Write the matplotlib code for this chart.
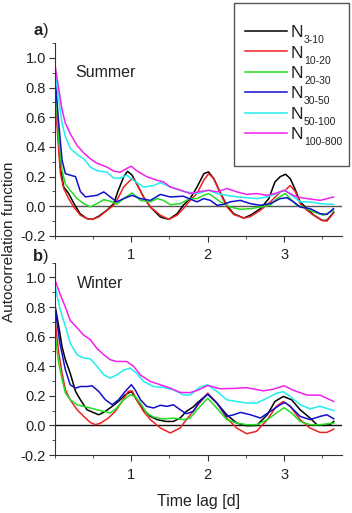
import matplotlib.pyplot as plt
from matplotlib.ticker import MultipleLocator
from matplotlib.patches import Rectangle

plt.rcParams['font.family'] = ['Liberation Sans', 'DejaVu Sans']
plt.rcParams['mathtext.fontset'] = 'custom'
plt.rcParams['mathtext.rm'] = 'Liberation Sans'
plt.rcParams['mathtext.bf'] = 'Liberation Sans:bold'
plt.rcParams['mathtext.default'] = 'regular'
plt.rcParams['axes.unicode_minus'] = False

# ---- Summer (panel a) ----
sum_x_n3 = [0, 0.03, 0.07, 0.115, 0.18, 0.25, 0.33, 0.42, 0.49, 0.57, 0.68, 0.77, 0.83, 0.9, 0.95,
            1.01, 1.07, 1.16, 1.25, 1.38, 1.49, 1.6, 1.68, 1.77, 1.86, 1.95, 2.01, 2.08, 2.17, 2.25,
            2.34, 2.47, 2.56, 2.69, 2.8, 2.88, 2.95, 3.02, 3.08, 3.15, 3.21, 3.3, 3.39, 3.5, 3.56, 3.65]
sum_y_n3 = [0.85, 0.58, 0.27, 0.13, 0.086, 0.018, -0.05, -0.083, -0.088, -0.068, -0.027, 0.018, 0.108,
            0.198, 0.236, 0.21, 0.153, 0.063, -0.005, -0.072, -0.088, -0.05, 0.007, 0.052, 0.13, 0.22,
            0.232, 0.187, 0.086, 0.007, -0.05, -0.079, -0.06, -0.016, 0.052, 0.164, 0.2, 0.216, 0.187,
            0.108, 0.03, -0.016, -0.06, -0.095, -0.095, -0.04]

sum_x_n10 = [0, 0.028, 0.072, 0.115, 0.18, 0.246, 0.333, 0.42, 0.486, 0.573, 0.682, 0.769, 0.834, 0.9,
             0.987, 1.03, 1.07, 1.16, 1.25, 1.38, 1.49, 1.6, 1.68, 1.77, 1.86, 1.948, 2.013, 2.078, 2.166,
             2.253, 2.34, 2.47, 2.558, 2.688, 2.797, 2.885, 2.95, 3.015, 3.08, 3.146, 3.211, 3.298, 3.386,
             3.495, 3.56, 3.647]
sum_y_n10 = [0.88, 0.54, 0.22, 0.12, 0.052, -0.005, -0.06, -0.083, -0.088, -0.072, -0.027, 0.007, 0.063,
             0.13, 0.176, 0.187, 0.153, 0.063, -0.005, -0.06, -0.088, -0.06, -0.016, 0.04, 0.086, 0.176,
             0.22, 0.187, 0.086, -0.005, -0.055, -0.079, -0.07, -0.027, 0.018, 0.063, 0.097, 0.108, 0.14,
             0.1, 0.018, -0.027, -0.06, -0.095, -0.1, -0.045]

sum_x_n20 = [0, 0.05, 0.094, 0.137, 0.2, 0.29, 0.377, 0.464, 0.55, 0.64, 0.725, 0.81, 0.9, 1.01, 1.12,
             1.25, 1.34, 1.42, 1.51, 1.64, 1.77, 1.86, 1.948, 2.013, 2.078, 2.166, 2.296, 2.427, 2.558,
             2.688, 2.819, 2.906, 3.015, 3.08, 3.168, 3.255, 3.386, 3.516, 3.647]
sum_y_n20 = [0.86, 0.45, 0.24, 0.15, 0.108, 0.052, 0.018, -0.004, 0.018, 0.045, 0.034, 0.015, 0.052,
             0.09, 0.04, 0.03, 0.052, 0.04, 0.011, 0.018, 0.052, 0.052, 0.074, 0.086, 0.063, 0.03,
             -0.005, -0.02, -0.016, -0.005, 0.007, 0.052, 0.086, 0.052, 0.007, -0.005, -0.038, -0.06,
             -0.027]

sum_x_n30 = [0, 0.05, 0.094, 0.137, 0.2, 0.27, 0.333, 0.4, 0.464, 0.55, 0.64, 0.725, 0.81, 0.9, 1.01,
             1.12, 1.25, 1.38, 1.51, 1.68, 1.86, 1.948, 2.035, 2.122, 2.209, 2.296, 2.427, 2.558, 2.688,
             2.819, 2.95, 3.037, 3.124, 3.211, 3.342, 3.473, 3.56, 3.647]
sum_y_n30 = [0.88, 0.56, 0.31, 0.22, 0.21, 0.2, 0.1, 0.063, 0.068, 0.074, 0.097, 0.063, 0.03, 0.052,
             0.074, 0.052, 0.04, 0.08, 0.063, 0.068, 0.03, 0.052, 0.04, 0.007, 0.013, 0.03, 0.04, 0.018,
             0.007, 0.018, 0.052, 0.058, 0.03, -0.005, -0.016, -0.05, -0.055, -0.016]

sum_x_n50 = [0, 0.05, 0.094, 0.137, 0.2, 0.29, 0.377, 0.464, 0.55, 0.68, 0.77, 0.856, 0.94, 1.03, 1.16,
             1.29, 1.38, 1.51, 1.68, 1.86, 2.013, 2.122, 2.253, 2.383, 2.514, 2.645, 2.776, 2.906, 3.015,
             3.124, 3.211, 3.342, 3.473, 3.647]
sum_y_n50 = [0.92, 0.72, 0.56, 0.47, 0.39, 0.35, 0.32, 0.265, 0.24, 0.23, 0.19, 0.19, 0.21, 0.175, 0.13,
             0.14, 0.16, 0.13, 0.1, 0.086, 0.108, 0.086, 0.074, 0.063, 0.058, 0.052, 0.063, 0.086, 0.11,
             0.063, 0.03, 0.03, 0.018, 0.013]

sum_x_n100 = [0, 0.05, 0.094, 0.137, 0.2, 0.29, 0.377, 0.464, 0.55, 0.68, 0.77, 0.856, 0.94, 1.0, 1.07,
              1.2, 1.34, 1.42, 1.51, 1.64, 1.77, 1.904, 2.013, 2.122, 2.253, 2.383, 2.514, 2.645, 2.776,
              2.906, 3.0, 3.08, 3.168, 3.298, 3.473, 3.647]
sum_y_n100 = [0.96, 0.79, 0.65, 0.56, 0.49, 0.41, 0.36, 0.32, 0.29, 0.265, 0.237, 0.23, 0.255, 0.27, 0.24,
              0.2, 0.175, 0.165, 0.13, 0.11, 0.086, 0.1, 0.108, 0.097, 0.12, 0.097, 0.08, 0.086, 0.074,
              0.09, 0.108, 0.085, 0.063, 0.052, 0.04, 0.063]

# ---- Winter (panel b) ----
win_x_n3 = [0, 0.05, 0.094, 0.137, 0.2, 0.27, 0.333, 0.42, 0.5, 0.573, 0.66, 0.75, 0.834, 0.92, 1.0,
            1.07, 1.16, 1.25, 1.34, 1.45, 1.55, 1.64, 1.72, 1.81, 1.86, 2.0, 2.12, 2.25, 2.38, 2.51,
            2.64, 2.78, 2.88, 2.99, 3.1, 3.21, 3.34, 3.43, 3.52, 3.6, 3.65]
win_y_n3 = [0.815, 0.67, 0.53, 0.444, 0.353, 0.23, 0.174, 0.106, 0.088, 0.072, 0.095, 0.129, 0.163,
            0.207, 0.23, 0.174, 0.106, 0.061, 0.039, 0.027, 0.027, 0.05, 0.095, 0.125, 0.151, 0.212,
            0.151, 0.072, 0.016, -0.002, 0.0, 0.072, 0.162, 0.196, 0.173, 0.106, 0.05, 0.005, 0.0,
            0.005, 0.027]

win_x_n10 = [0, 0.05, 0.094, 0.137, 0.2, 0.29, 0.377, 0.464, 0.53, 0.6, 0.7, 0.79, 0.88, 0.96, 1.01,
             1.07, 1.16, 1.25, 1.38, 1.51, 1.64, 1.72, 1.81, 1.86, 2.0, 2.12, 2.25, 2.38, 2.51, 2.64,
             2.78, 2.9, 2.99, 3.08, 3.21, 3.34, 3.47, 3.56, 3.65]
win_y_n10 = [0.72, 0.49, 0.353, 0.241, 0.174, 0.106, 0.061, 0.02, 0.005, 0.016, 0.05, 0.095, 0.163,
             0.23, 0.234, 0.174, 0.095, 0.039, -0.017, -0.051, -0.017, 0.039, 0.095, 0.13, 0.218, 0.151,
             0.05, -0.018, -0.056, -0.04, 0.039, 0.13, 0.162, 0.13, 0.039, -0.018, -0.047, -0.047,
             -0.025]

win_x_n20 = [0, 0.05, 0.094, 0.137, 0.2, 0.29, 0.377, 0.464, 0.55, 0.64, 0.725, 0.81, 0.9, 0.987, 1.05,
             1.12, 1.2, 1.29, 1.42, 1.55, 1.68, 1.77, 1.86, 2.0, 2.12, 2.25, 2.38, 2.51, 2.64, 2.78, 2.9,
             3.0, 3.1, 3.21, 3.34, 3.47, 3.65]
win_y_n20 = [0.62, 0.42, 0.31, 0.22, 0.174, 0.14, 0.129, 0.118, 0.106, 0.095, 0.084, 0.118, 0.174,
             0.207, 0.196, 0.151, 0.084, 0.057, 0.043, 0.05, 0.039, 0.05, 0.106, 0.184, 0.117, 0.039,
             0.016, 0.005, 0.005, 0.039, 0.084, 0.12, 0.084, 0.027, 0.005, 0.005, 0.016]

win_x_n30 = [0, 0.065, 0.137, 0.2, 0.27, 0.333, 0.42, 0.486, 0.573, 0.66, 0.75, 0.834, 0.92, 1.0, 1.05,
             1.12, 1.2, 1.29, 1.38, 1.47, 1.55, 1.64, 1.72, 1.81, 1.88, 2.0, 2.12, 2.25, 2.34, 2.43,
             2.56, 2.69, 2.82, 2.95, 3.01, 3.08, 3.21, 3.34, 3.47, 3.56, 3.65]
win_y_n30 = [0.8, 0.556, 0.376, 0.275, 0.252, 0.263, 0.263, 0.268, 0.23, 0.174, 0.14, 0.174, 0.23,
             0.275, 0.241, 0.174, 0.129, 0.118, 0.136, 0.129, 0.14, 0.106, 0.079, 0.095, 0.151, 0.212,
             0.151, 0.061, 0.072, 0.088, 0.072, 0.05, 0.095, 0.14, 0.155, 0.129, 0.061, 0.039, 0.061,
             0.072, 0.045]

win_x_n50 = [0, 0.065, 0.137, 0.2, 0.29, 0.377, 0.464, 0.55, 0.64, 0.725, 0.81, 0.9, 0.987, 1.07, 1.16,
             1.29, 1.42, 1.55, 1.68, 1.77, 1.9, 2.0, 2.12, 2.25, 2.38, 2.51, 2.64, 2.78, 2.9, 2.99, 3.08,
             3.21, 3.34, 3.47, 3.65]
win_y_n50 = [0.95, 0.79, 0.67, 0.556, 0.478, 0.455, 0.45, 0.4, 0.342, 0.32, 0.342, 0.375, 0.387, 0.353,
             0.297, 0.263, 0.257, 0.241, 0.207, 0.205, 0.26, 0.275, 0.23, 0.173, 0.162, 0.151, 0.151,
             0.185, 0.218, 0.228, 0.196, 0.14, 0.112, 0.13, 0.1]

win_x_n100 = [0, 0.065, 0.137, 0.2, 0.29, 0.377, 0.464, 0.55, 0.64, 0.725, 0.81, 0.94, 1.03, 1.12, 1.25,
              1.38, 1.51, 1.64, 1.77, 1.88, 2.0, 2.16, 2.34, 2.51, 2.73, 2.86, 3.0, 3.12, 3.3, 3.47,
              3.65]
win_y_n100 = [0.985, 0.89, 0.8, 0.71, 0.66, 0.61, 0.58, 0.52, 0.478, 0.444, 0.432, 0.432, 0.4, 0.34,
              0.297, 0.275, 0.252, 0.223, 0.222, 0.24, 0.27, 0.248, 0.25, 0.255, 0.234, 0.245, 0.268,
              0.238, 0.205, 0.205, 0.162]

size_ranges = ['3-10', '10-20', '20-30', '30-50', '50-100', '100-800']
colors = ['#000000', '#ee2222', '#22dd22', '#1010cc', '#22eeee', '#ee22ee']

summer = [(sum_x_n3, sum_y_n3), (sum_x_n10, sum_y_n10), (sum_x_n20, sum_y_n20),
          (sum_x_n30, sum_y_n30), (sum_x_n50, sum_y_n50), (sum_x_n100, sum_y_n100)]
winter = [(win_x_n3, win_y_n3), (win_x_n10, win_y_n10), (win_x_n20, win_y_n20),
          (win_x_n30, win_y_n30), (win_x_n50, win_y_n50), (win_x_n100, win_y_n100)]

W, H = 352, 513
fig = plt.figure(figsize=(W / 100, H / 100), dpi=100)
ax_a = fig.add_axes([0.156, 0.540, 0.816, 0.376])
ax_b = fig.add_axes([0.156, 0.113, 0.816, 0.375])

txt_col = '#222222'
spine_col = '#333333'
for ax, data, season, pos, zcol in [(ax_a, summer, 'Summer', (0.07, 0.845), '#555555'),
                                     (ax_b, winter, 'Winter', (0.077, 0.894), '#111111')]:
    ax.axhline(0, color=zcol, lw=1.0, zorder=1)
    handles = []
    for (xs, ys), c in zip(data, colors):
        h, = ax.plot(xs, ys, color=c, lw=1.1, zorder=2)
        handles.append(h)
    ax.set_xlim(0, 3.76)
    ax.set_ylim(-0.2, 1.1)
    ax.set_xticks([1, 2, 3])
    ax.xaxis.set_minor_locator(MultipleLocator(0.5))
    ax.set_yticks([-0.2, 0.0, 0.2, 0.4, 0.6, 0.8, 1.0])
    ax.yaxis.set_minor_locator(MultipleLocator(0.1))
    ax.tick_params(which='both', direction='out', colors=spine_col, labelsize=10.5,
                   labelcolor=txt_col)
    ax.tick_params(which='major', length=4.5)
    ax.tick_params(which='minor', length=2.5)
    ax.tick_params(axis='y', pad=2)
    ax.tick_params(axis='x', pad=4.5)
    ax.spines['top'].set_visible(False)
    ax.spines['right'].set_visible(False)
    ax.spines['left'].set_color(spine_col)
    ax.spines['bottom'].set_color(spine_col)
    ax.text(pos[0], pos[1], season, transform=ax.transAxes, fontsize=11.5, va='center',
            color=txt_col)

fig.text(33 / W, 1 - 31 / H, r'$\mathbf{a}$)', fontsize=12, va='center', color=txt_col)
fig.text(32 / W, 1 - 256 / H, r'$\mathbf{b}$)', fontsize=12, va='center', color=txt_col)
fig.text(9 / W, 1 - 242 / H, 'Autocorrelation function', rotation=90, fontsize=11,
         ha='center', va='center', color=txt_col)
ax_b.set_xlabel('Time lag [d]', fontsize=11.5, color=txt_col, labelpad=9)

# legend frame (figure-level box) and entries
fig.add_artist(Rectangle((234 / W, 1 - 166 / H), 115 / W, 163 / H, transform=fig.transFigure,
                         facecolor='white', edgecolor='#555555', lw=1.0, zorder=3))
leg = fig.legend(handles, ['N'] * len(handles), loc='upper left',
                 bbox_to_anchor=(245 / W, 1 - 25 / H), frameon=False, fontsize=12.5,
                 handlelength=2.4, labelspacing=0.30, borderpad=0, handletextpad=0.25,
                 borderaxespad=0)
leg.set_zorder(4)
for t in leg.get_texts():
    t.set_color(txt_col)

fig.canvas.draw()
for t, sub in zip(leg.get_texts(), size_ranges):
    bb = t.get_window_extent()
    bx, by = t.get_transform().transform(t.get_position())
    fig.text(bb.x1 + 0.5, by - 6, sub, transform=None, fontsize=7.5, va='baseline',
             ha='left', color=txt_col, zorder=5)

fig.savefig('out.png', dpi=100)
